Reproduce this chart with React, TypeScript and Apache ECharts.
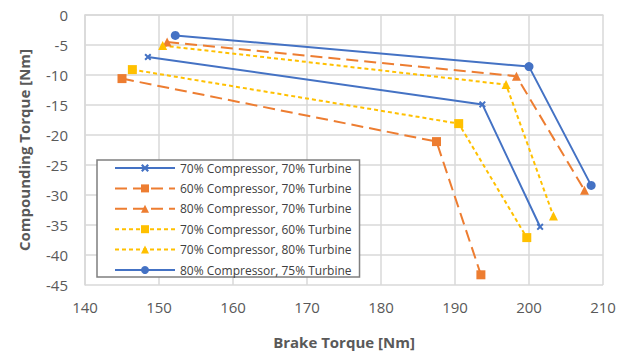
import React, { useEffect, useRef } from "react";
import * as echarts from "echarts";

const seriesNames = [
  "70% Compressor, 70% Turbine",
  "60% Compressor, 70% Turbine",
  "80% Compressor, 70% Turbine",
  "70% Compressor, 60% Turbine",
  "70% Compressor, 80% Turbine",
  "80% Compressor, 75% Turbine",
];

const c70t70X = [148.5, 193.7, 201.5];
const c70t70Y = [-7.0, -14.9, -35.3];
const c60t70X = [145.0, 187.5, 193.5];
const c60t70Y = [-10.6, -21.1, -43.3];
const c80t70X = [151.1, 198.3, 207.5];
const c80t70Y = [-4.5, -10.2, -29.2];
const c70t60X = [146.4, 190.5, 199.7];
const c70t60Y = [-9.1, -18.1, -37.1];
const c70t80X = [150.5, 196.9, 203.3];
const c70t80Y = [-5.1, -11.6, -33.5];
const c80t75X = [152.2, 200.0, 208.4];
const c80t75Y = [-3.4, -8.6, -28.4];

const xTicks = [140, 150, 160, 170, 180, 190, 200, 210];
const yTicks = [0, -5, -10, -15, -20, -25, -30, -35, -40, -45];

const BLUE = "#4472c4";
const ORANGE = "#ed7d31";
const YELLOW = "#ffc000";
const CROSS =
  "path://M2,0 L5,3 L8,0 L10,2 L7,5 L10,8 L8,10 L5,7 L2,10 L0,8 L3,5 L0,2 Z";

const zip = (xs: number[], ys: number[]) => xs.map((x, i) => [x, ys[i]]);

export default function App() {
  const ref = useRef<HTMLDivElement>(null);
  useEffect(() => {
    if (!ref.current) return;
    const chart = echarts.init(ref.current, undefined, { renderer: "svg" });
    const font = "'Open Sans', 'Liberation Sans', sans-serif";
    const mk = (
      i: number,
      xs: number[],
      ys: number[],
      color: string,
      type: any,
      symbol: string,
      size: number
    ) => ({
      name: seriesNames[i],
      type: "line",
      data: zip(xs, ys),
      symbol,
      symbolSize: size,
      showSymbol: true,
      itemStyle: { color },
      lineStyle: { color, width: 2, type },
      emphasis: { disabled: true },
    });
    chart.setOption({
      animation: false,
      textStyle: { fontFamily: font },
      grid: { left: 85, right: 29, top: 15, bottom: 65, containLabel: false },
      xAxis: {
        type: "value",
        min: xTicks[0],
        max: xTicks[xTicks.length - 1],
        interval: 10,
        name: "Brake Torque [Nm]",
        nameLocation: "middle",
        nameGap: 49,
        nameTextStyle: { fontSize: 15, fontWeight: "bold", color: "#595959", fontFamily: font },
        axisLine: { show: true, lineStyle: { color: "#d9d9d9", width: 1.5 } },
        axisTick: { show: false },
        axisLabel: { fontSize: 15, color: "#595959", margin: 14, fontFamily: font },
        splitLine: { show: true, lineStyle: { color: "#d9d9d9", width: 1.5 } },
      },
      yAxis: {
        type: "value",
        min: yTicks[yTicks.length - 1],
        max: yTicks[0],
        interval: 5,
        name: "Compounding Torque [Nm]",
        nameLocation: "middle",
        nameGap: 54,
        nameTextStyle: { fontSize: 15, fontWeight: "bold", color: "#595959", fontFamily: font },
        axisLine: { show: true, lineStyle: { color: "#d9d9d9", width: 1.5 } },
        axisTick: { show: false },
        axisLabel: { fontSize: 15, color: "#595959", margin: 17, fontFamily: font },
        splitLine: { show: true, lineStyle: { color: "#d9d9d9", width: 1.5 } },
      },
      legend: {
        orient: "vertical",
        left: 97,
        top: 160,
        width: 258,
        padding: [2, 8, 1, 17],
        itemWidth: 60,
        itemHeight: 10,
        itemGap: 8.4,
        borderColor: "#7f7f7f",
        borderWidth: 1.5,
        backgroundColor: "#ffffff",
        textStyle: { fontSize: 12, color: "#404040", fontFamily: font },
        data: seriesNames,
      },
      series: [
        mk(0, c70t70X, c70t70Y, BLUE, "solid", CROSS, 7),
        mk(1, c60t70X, c60t70Y, ORANGE, [12, 6], "rect", 9),
        mk(2, c80t70X, c80t70Y, ORANGE, [12, 6], "triangle", 9),
        mk(3, c70t60X, c70t60Y, YELLOW, [4, 3], "rect", 9),
        mk(4, c70t80X, c70t80Y, YELLOW, [4, 3], "triangle", 9),
        mk(5, c80t75X, c80t75Y, BLUE, "solid", "circle", 9),
      ],
    });
    return () => chart.dispose();
  }, []);
  return (
    <div
      ref={ref}
      style={{ position: "absolute", left: 0, top: 0, width: 632, height: 354, background: "#fff" }}
    />
  );
}
